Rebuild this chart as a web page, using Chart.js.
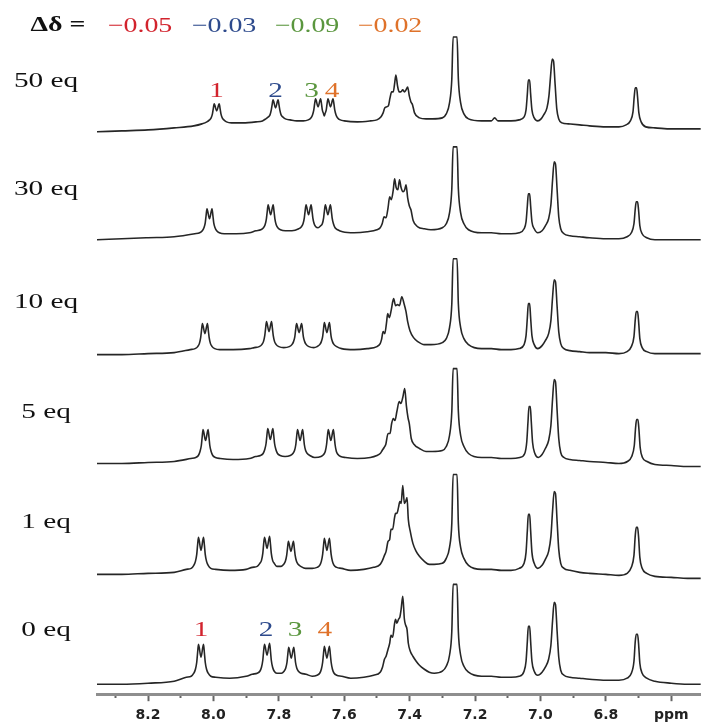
<!DOCTYPE html>
<html>
<head>
<meta charset="utf-8">
<script src="https://cdn.jsdelivr.net/npm/chart.js@4.4.1/dist/chart.umd.min.js"></script>
<style>
  html, body { margin: 0; padding: 0; background: #fff; }
  canvas { display: block; }
</style>
</head>
<body>
<canvas id="nmr" width="701" height="722"></canvas>
<script>
// titration labels, bottom spectrum first
var eqLabels = ['0 eq', '1 eq', '5 eq', '10 eq', '30 eq', '50 eq'];
// vertical stacking of the traces (intensity units)
var stackOffset = [0, 108, 218, 328, 442, 550];
// shift of signals 1-4 between 0 and 50 eq
var deltaShift = [-0.05, -0.03, -0.09, -0.02];
var peakNames = ['1', '2', '3', '4'];
var peakColors = ['#d2232d', '#2d4a8c', '#5a963e', '#df722a'];
// where the numbers sit (ppm) above the top and bottom traces
var peakLabelPpmTop = [7.99, 7.81, 7.70, 7.637];
var peakLabelPpmBottom = [8.038, 7.839, 7.75, 7.659];
// axis ticks (ppm)
var majorTicks = [8.2, 8.0, 7.8, 7.6, 7.4, 7.2, 7.0, 6.8, 6.6];

// spectra: [ppm, intensity]
var spec0 = [
  [8.36,-3],[8.28,-3],[8.20,-2],[8.12,0],
  [8.083,4],[8.068,5],[8.06,8],[8.055,12],[8.051,19],[8.0485,28],[8.0457,37],[8.038,24],[8.0303,37],[8.0275,28],[8.025,19],[8.021,12],[8.016,8],[8.008,5],[7.993,4],
  [7.95,3],[7.90,5],
  [7.881,7],[7.866,8],[7.858,10],[7.853,14],[7.849,21],[7.8465,30],[7.8437,37],[7.836,26],[7.8283,38],[7.8255,30],[7.823,21],[7.819,14],[7.814,10],[7.806,8],
  [7.792,8],[7.784,10],[7.779,13],[7.775,19],[7.7725,27],[7.7697,34],[7.762,23],[7.7543,34],[7.7515,27],[7.749,19],[7.745,13],[7.74,10],[7.732,8],[7.717,7],
  [7.698,5],[7.683,6],[7.675,8],[7.67,12],[7.666,19],[7.6635,27],[7.6607,35],[7.653,23],[7.6453,35],[7.6425,27],[7.64,19],[7.636,12],[7.631,8],[7.623,6],[7.608,5],
  [7.58,3],[7.54,4],[7.51,6],
  [7.49,9],[7.483,14],[7.477,22],[7.472,25],[7.466,32],[7.461,38],[7.457,46],[7.452,44],[7.446,58],[7.443,62],[7.439,58],[7.434,62],[7.43,64],[7.426,72],[7.421,85],[7.416,62],[7.412,56],[7.408,52],[7.404,38],[7.398,30],[7.39,25],[7.38,20],[7.37,16],[7.355,12],[7.34,9],[7.325,8],
  [7.30,10],[7.288,15],[7.278,26],[7.271,50],[7.267,97],[7.261,97],[7.255,97],[7.251,50],[7.244,26],[7.234,15],[7.22,9],
  [7.18,5],[7.15,5],[7.12,4],[7.09,4],
  [7.065,5],[7.05,10],[7.044,20],[7.04,40],[7.037,55],[7.033,55],[7.03,40],[7.026,20],[7.019,10],[7.008,6],
  [6.995,9],[6.985,14],[6.975,22],[6.968,36],[6.963,60],[6.958,79],[6.954,77],[6.949,50],[6.944,24],[6.938,11],[6.928,6],[6.91,4],
  [6.88,3],[6.85,2],[6.80,1],[6.76,1],
  [6.735,3],[6.722,8],[6.714,20],[6.71,40],[6.707,47],[6.703,47],[6.70,38],[6.696,18],[6.689,8],[6.675,3],
  [6.65,0],[6.60,-2],[6.55,-3],[6.51,-3]
];
var spec1 = [
  [8.36,-1],[8.28,-1],[8.20,0],[8.12,1],
  [8.083,4],[8.068,5],[8.06,8],[8.055,12],[8.051,19],[8.0485,28],[8.0457,36],[8.038,23],[8.0303,36],[8.0275,28],[8.025,19],[8.021,12],[8.016,8],[8.008,5],[7.993,4],
  [7.95,3],[7.90,4],
  [7.881,6],[7.866,7],[7.858,10],[7.853,13],[7.849,20],[7.8465,29],[7.8437,36],[7.836,25],[7.8283,37],[7.8255,29],[7.823,20],[7.819,13],[7.814,10],[7.806,7],
  [7.793,7],[7.785,9],[7.78,12],[7.776,18],[7.7735,25],[7.7707,32],[7.763,22],[7.7553,32],[7.7525,25],[7.75,18],[7.746,12],[7.741,9],[7.733,7],[7.718,5],
  [7.698,5],[7.683,6],[7.675,8],[7.67,12],[7.666,19],[7.6635,27],[7.6607,35],[7.653,23],[7.6453,35],[7.6425,27],[7.64,19],[7.636,12],[7.631,8],[7.623,6],[7.608,5],
  [7.58,3],[7.54,4],[7.51,6],
  [7.49,9],[7.483,13],[7.477,18],[7.472,22],[7.466,32],[7.461,34],[7.457,44],[7.452,44],[7.446,56],[7.443,60],[7.439,60],[7.434,66],[7.43,72],[7.426,70],[7.421,88],[7.416,70],[7.412,72],[7.408,76],[7.404,54],[7.398,42],[7.39,30],[7.38,22],[7.37,17],[7.355,12],[7.34,9],[7.325,9],
  [7.30,10],[7.288,15],[7.278,26],[7.271,50],[7.267,99],[7.261,99],[7.255,99],[7.251,50],[7.244,26],[7.234,15],[7.22,8],
  [7.18,4],[7.15,4],[7.12,3],[7.09,3],
  [7.065,5],[7.05,10],[7.044,21],[7.04,43],[7.037,59],[7.033,59],[7.03,43],[7.026,21],[7.019,10],[7.008,5],
  [6.995,8],[6.985,14],[6.975,22],[6.968,37],[6.963,62],[6.958,82],[6.954,80],[6.949,52],[6.944,24],[6.938,10],[6.928,5],[6.91,3],
  [6.88,1],[6.85,0],[6.80,-1],[6.76,-2],
  [6.735,0],[6.722,6],[6.714,18],[6.71,38],[6.707,46],[6.703,46],[6.70,37],[6.696,16],[6.689,5],[6.675,0],
  [6.65,-3],[6.60,-4],[6.55,-5],[6.51,-5]
];
var spec5 = [
  [8.36,0],[8.28,0],[8.20,1],[8.12,2],
  [8.069,5],[8.054,6],[8.046,8],[8.041,12],[8.037,18],[8.0345,26],[8.0317,34],[8.024,23],[8.0163,34],[8.0135,26],[8.011,18],[8.007,12],[8.002,8],[7.994,6],[7.979,5],
  [7.94,4],[7.89,5],
  [7.871,7],[7.856,8],[7.848,10],[7.843,14],[7.839,20],[7.8365,28],[7.8337,35],[7.826,24],[7.8183,35],[7.8155,28],[7.813,20],[7.809,14],[7.804,10],[7.796,8],[7.781,7],
  [7.765,8],[7.757,10],[7.752,13],[7.748,19],[7.7455,27],[7.7427,34],[7.735,23],[7.7273,34],[7.7245,27],[7.722,19],[7.718,13],[7.713,10],[7.705,8],[7.69,6],
  [7.671,7],[7.663,9],[7.658,12],[7.654,19],[7.6515,27],[7.6487,34],[7.641,23],[7.6333,34],[7.6305,27],[7.628,19],[7.624,12],[7.619,9],[7.611,7],[7.596,6],
  [7.56,5],[7.52,6],[7.50,8],
  [7.49,10],[7.484,13],[7.478,16],[7.473,19],[7.466,30],[7.46,30],[7.455,40],[7.45,45],[7.445,43],[7.439,52],[7.432,62],[7.427,60],[7.421,66],[7.415,75],[7.41,58],[7.405,46],[7.401,40],[7.395,25],[7.386,19],[7.37,15],[7.35,12],[7.33,12],
  [7.30,13],[7.288,17],[7.278,28],[7.271,52],[7.267,95],[7.261,95],[7.255,95],[7.251,52],[7.244,28],[7.234,17],[7.22,10],
  [7.18,6],[7.15,6],[7.12,5],[7.09,5],
  [7.063,6],[7.048,10],[7.042,21],[7.038,42],[7.035,57],[7.031,57],[7.028,42],[7.024,21],[7.017,10],[7.006,6],
  [6.995,9],[6.985,15],[6.975,23],[6.968,38],[6.963,64],[6.958,84],[6.954,82],[6.949,53],[6.944,25],[6.938,11],[6.928,6],[6.91,4],
  [6.88,3],[6.85,2],[6.80,1],[6.76,0],
  [6.734,2],[6.721,7],[6.713,18],[6.709,36],[6.706,44],[6.702,44],[6.699,35],[6.695,16],[6.688,6],[6.674,2],
  [6.65,-1],[6.60,-2],[6.55,-3],[6.51,-3]
];
var spec10 = [
  [8.36,-1],[8.28,-1],[8.20,0],[8.12,1],
  [8.071,4],[8.056,5],[8.048,7],[8.043,10],[8.039,16],[8.0365,23],[8.0337,30],[8.026,20],[8.0183,30],[8.0155,23],[8.013,16],[8.009,10],[8.004,7],[7.996,5],[7.981,4],
  [7.94,4],[7.89,5],
  [7.875,6],[7.86,7],[7.852,9],[7.847,12],[7.843,18],[7.8405,25],[7.8377,32],[7.83,22],[7.8223,32],[7.8195,25],[7.817,18],[7.813,12],[7.808,9],[7.80,7],[7.785,6],
  [7.768,7],[7.76,9],[7.755,12],[7.751,17],[7.7485,24],[7.7457,30],[7.738,21],[7.7303,30],[7.7275,24],[7.725,17],[7.721,12],[7.716,9],[7.708,7],[7.693,6],
  [7.683,7],[7.675,9],[7.67,12],[7.666,17],[7.6635,24],[7.6607,31],[7.653,21],[7.6453,31],[7.6425,24],[7.64,17],[7.636,12],[7.631,9],[7.623,7],[7.608,5],
  [7.57,4],[7.53,5],[7.50,7],
  [7.49,10],[7.486,14],[7.481,22],[7.476,20],[7.471,30],[7.467,40],[7.462,36],[7.456,44],[7.449,55],[7.443,48],[7.437,49],[7.431,48],[7.424,57],[7.417,50],[7.411,42],[7.406,32],[7.399,23],[7.388,16],[7.375,12],[7.355,9],[7.335,9],
  [7.30,11],[7.288,15],[7.278,26],[7.271,50],[7.267,95],[7.261,95],[7.255,95],[7.251,50],[7.244,26],[7.234,15],[7.22,9],
  [7.18,5],[7.15,5],[7.12,4],[7.09,4],
  [7.065,5],[7.05,9],[7.044,18],[7.04,36],[7.037,50],[7.033,50],[7.03,36],[7.026,18],[7.019,9],[7.008,5],
  [6.995,8],[6.985,13],[6.975,20],[6.968,33],[6.963,56],[6.958,74],[6.954,72],[6.949,47],[6.944,22],[6.938,10],[6.928,5],[6.91,3],
  [6.88,2],[6.85,1],[6.80,1],[6.76,0],
  [6.735,2],[6.722,7],[6.714,17],[6.71,34],[6.707,42],[6.703,42],[6.70,33],[6.696,15],[6.689,6],[6.675,2],
  [6.65,0],[6.60,0],[6.55,0],[6.51,0]
];
var spec30 = [
  [8.36,0],[8.28,1],[8.20,2],[8.12,3],
  [8.057,6],[8.042,7],[8.034,9],[8.029,12],[8.025,17],[8.0225,24],[8.0197,31],[8.012,21],[8.0043,31],[8.0015,24],[7.999,17],[7.995,12],[7.99,9],[7.982,7],[7.967,6],
  [7.93,6],[7.89,7],
  [7.87,9],[7.855,10],[7.847,12],[7.842,15],[7.838,21],[7.8355,28],[7.8327,35],[7.825,25],[7.8173,35],[7.8145,28],[7.812,21],[7.808,15],[7.803,12],[7.795,10],[7.78,9],
  [7.76,9],
  [7.739,11],[7.731,13],[7.726,16],[7.722,22],[7.7195,29],[7.7167,35],[7.709,25],[7.7013,35],[7.6985,29],[7.696,22],[7.692,16],[7.687,13],[7.68,12],
  [7.672,14],[7.667,16],[7.663,22],[7.6605,29],[7.6577,35],[7.65,25],[7.6423,35],[7.6395,29],[7.637,22],[7.633,16],[7.628,12],[7.62,10],[7.605,8],
  [7.57,7],[7.53,8],[7.50,10],
  [7.49,12],[7.484,16],[7.478,23],[7.472,22],[7.466,32],[7.461,43],[7.456,40],[7.45,50],[7.446,61],[7.441,52],[7.436,50],[7.431,60],[7.426,52],[7.42,48],[7.415,50],[7.411,55],[7.406,42],[7.401,34],[7.396,30],[7.389,19],[7.375,13],[7.355,11],[7.335,10],
  [7.30,12],[7.288,16],[7.278,27],[7.271,51],[7.267,93],[7.261,93],[7.255,93],[7.251,51],[7.244,27],[7.234,16],[7.22,10],
  [7.18,7],[7.15,7],[7.12,6],[7.09,6],
  [7.065,7],[7.05,11],[7.044,18],[7.04,34],[7.037,46],[7.033,46],[7.03,34],[7.026,18],[7.019,11],[7.008,7],
  [6.995,9],[6.985,14],[6.975,21],[6.968,35],[6.963,59],[6.958,78],[6.954,76],[6.949,50],[6.944,23],[6.938,11],[6.928,6],[6.91,4],
  [6.88,3],[6.85,2],[6.80,1],[6.76,1],
  [6.735,3],[6.722,7],[6.714,16],[6.71,31],[6.707,38],[6.703,38],[6.70,30],[6.696,14],[6.689,6],[6.675,2],
  [6.65,0],[6.60,0],[6.55,0],[6.51,0]
];
var spec50 = [
  [8.36,0],[8.28,1],[8.20,2],[8.12,4],[8.06,6],[8.035,8],
  [8.02,10],[8.012,12],[8.007,14],[8.003,18],[8.0005,23],[7.9977,28],[7.99,21],[7.9823,28],[7.9795,23],[7.977,18],[7.973,14],[7.968,12],[7.96,10],[7.945,9],
  [7.91,9],[7.87,10],[7.85,11],
  [7.84,13],[7.832,15],[7.827,17],[7.823,22],[7.8205,27],[7.8177,32],[7.81,24],[7.8023,32],[7.7995,27],[7.797,22],[7.793,17],[7.788,15],[7.78,13],[7.765,12],
  [7.745,11],[7.725,11],
  [7.71,12],[7.702,14],[7.697,17],[7.693,22],[7.6905,28],[7.6877,33],[7.68,25],[7.6723,33],[7.6695,28],[7.667,22],[7.663,18],[7.661,16],[7.659,18],[7.655,22],[7.6525,28],[7.6497,33],[7.642,25],[7.6343,33],[7.6315,28],[7.629,22],[7.625,17],[7.62,14],[7.612,12],[7.60,11],
  [7.56,10],[7.52,11],[7.50,12],
  [7.488,15],[7.481,19],[7.476,24],[7.471,25],[7.465,26],[7.46,34],[7.455,40],[7.45,40],[7.446,48],[7.442,57],[7.437,46],[7.432,40],[7.427,40],[7.421,42],[7.416,40],[7.411,42],[7.406,45],[7.401,36],[7.396,30],[7.391,27],[7.385,19],[7.37,14],[7.35,13],[7.33,13],
  [7.30,14],[7.288,18],[7.278,29],[7.271,53],[7.267,95],[7.261,95],[7.255,95],[7.251,53],[7.244,29],[7.234,18],[7.22,13],
  [7.18,11],[7.15,11],[7.14,14],[7.13,11],[7.09,11],
  [7.065,12],[7.05,15],[7.044,22],[7.04,38],[7.037,52],[7.033,52],[7.03,38],[7.026,22],[7.019,14],[7.008,11],
  [6.998,13],[6.99,17],[6.98,24],[6.974,36],[6.969,56],[6.964,73],[6.96,71],[6.955,47],[6.95,23],[6.944,13],[6.934,9],[6.915,8],
  [6.88,7],[6.85,6],[6.80,5],[6.76,5],
  [6.738,7],[6.725,11],[6.717,20],[6.713,36],[6.71,44],[6.706,44],[6.703,35],[6.699,19],[6.692,10],[6.678,5],
  [6.65,4],[6.60,3],[6.55,3],[6.51,3]
];
var spectra = [spec0, spec1, spec5, spec10, spec30, spec50];

var datasets = spectra.map(function (s, i) {
  return {
    label: eqLabels[i],
    data: s.map(function (p) { return { x: p[0], y: p[1] + stackOffset[i] }; }),
    borderColor: '#262626',
    borderWidth: 1.6,
    pointRadius: 0,
    fill: false,
    cubicInterpolationMode: 'monotone'
  };
});

// stretched serif text, the figure is squeezed wider than normal type
function wideText(ctx, text, x, y, font, color) {
  ctx.save();
  ctx.font = font;
  ctx.fillStyle = color;
  ctx.textAlign = 'center';
  ctx.textBaseline = 'middle';
  ctx.translate(x, y);
  ctx.scale(1.33, 1);
  ctx.fillText(text, 0, 0);
  ctx.restore();
}

var labelsPlugin = {
  id: 'nmrLabels',
  afterDraw: function (chart) {
    var ctx = chart.ctx;
    var xs = chart.scales.x, ys = chart.scales.y;
    var serif = '"Liberation Serif", "Times New Roman", serif';

    wideText(ctx, '\u0394\u03b4 =', 58, 26, 'bold 21px ' + serif, '#111');
    var hx = [140, 224, 307, 390];
    deltaShift.forEach(function (d, i) {
      wideText(ctx, '\u2212' + Math.abs(d).toFixed(2), hx[i], 26, '21px ' + serif, peakColors[i]);
    });

    eqLabels.forEach(function (t, i) {
      wideText(ctx, t, 46, ys.getPixelForValue(stackOffset[i] + 51), '22px ' + serif, '#111');
    });

    peakNames.forEach(function (n, i) {
      wideText(ctx, n, xs.getPixelForValue(peakLabelPpmTop[i]), ys.getPixelForValue(stackOffset[5] + 41), '22px ' + serif, peakColors[i]);
      wideText(ctx, n, xs.getPixelForValue(peakLabelPpmBottom[i]), ys.getPixelForValue(stackOffset[0] + 51), '22px ' + serif, peakColors[i]);
    });
  }
};

function isMajor(v) {
  return majorTicks.some(function (m) { return Math.abs(m - v) < 1e-6; });
}

new Chart(document.getElementById('nmr'), {
  type: 'line',
  data: { datasets: datasets },
  plugins: [labelsPlugin],
  options: {
    responsive: false,
    animation: false,
    devicePixelRatio: 1,
    layout: { padding: { left: 97, right: 0, top: 25, bottom: -8 } },
    plugins: { legend: { display: false }, tooltip: { enabled: false } },
    scales: {
      x: {
        type: 'linear',
        reverse: true,
        min: 6.509,
        max: 8.356,
        border: { display: true, color: '#8e8e8e', width: 3 },
        grid: {
          drawOnChartArea: false,
          drawTicks: true,
          tickLength: 7,
          tickColor: '#666',
          tickWidth: 2,
          tickBorderDash: function (c) { return isMajor(c.tick.value) ? [] : [2, 40]; }
        },
        ticks: {
          stepSize: 0.1,
          autoSkip: false,
          includeBounds: false,
          maxRotation: 0,
          padding: 6,
          color: '#222',
          font: { family: '"DejaVu Sans", sans-serif', size: 14, weight: 'bold' },
          callback: function (v) {
            if (Math.abs(v - 6.6) < 1e-6) return 'ppm';
            return isMajor(v) ? v.toFixed(1) : '';
          }
        }
      },
      y: {
        display: false,
        min: -13,
        max: 657
      }
    }
  }
});
</script>
</body>
</html>
